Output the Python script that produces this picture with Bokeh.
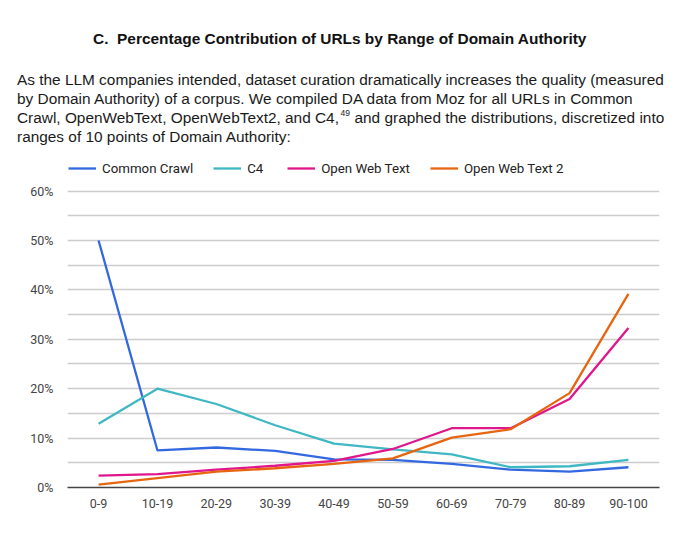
from bokeh.plotting import figure
from bokeh.models import (FactorRange, Range1d, FixedTicker, PrintfTickFormatter,
                          Legend, LegendItem, ColumnDataSource)
from bokeh.embed import file_html
from bokeh.resources import INLINE
from bokeh.core.properties import value

# ---------------- data ----------------
ranges = ["0-9", "10-19", "20-29", "30-39", "40-49", "50-59", "60-69", "70-79", "80-89", "90-100"]
common_crawl = [50.0, 7.5, 8.1, 7.4, 5.7, 5.6, 4.8, 3.6, 3.2, 4.1]
c4 = [12.9, 20.0, 16.9, 12.6, 8.9, 7.7, 6.7, 4.1, 4.3, 5.6]
open_web_text = [2.4, 2.7, 3.6, 4.4, 5.4, 7.8, 12.0, 12.0, 17.9, 32.3]
open_web_text_2 = [0.6, 1.9, 3.2, 3.9, 4.8, 5.9, 10.1, 11.8, 19.1, 39.2]
series_names = ["Common Crawl", "C4", "Open Web Text", "Open Web Text 2"]
series_colors = ["#3369e0", "#3fb8c4", "#e0168c", "#e8650f"]
y_ticks = [0, 10, 20, 30, 40, 50, 60]
y_minor = [5, 15, 25, 35, 45, 55]

title = "C.\u00a0 Percentage Contribution of URLs by Range of Domain Authority"
para = [
    "As the LLM companies intended, dataset curation dramatically increases the quality (measured",
    "by Domain Authority) of a corpus. We compiled DA data from Moz for all URLs in Common",
    "Crawl, OpenWebText, OpenWebText2, and C4,",
    "ranges of 10 points of Domain Authority:",
]
sup = "49"
para3_rest = "and graphed the distributions, discretized into"

# ---------------- header (separate root, pixel coordinates) ----------------
HW, HH = 668, 150
h = figure(width=HW, height=HH, x_range=Range1d(0, HW), y_range=Range1d(HH, 0),
           output_backend="svg", toolbar_location=None,
           x_axis_location=None, y_axis_location=None,
           min_border=0, min_border_left=0, min_border_right=0,
           min_border_top=0, min_border_bottom=0)
h.grid.visible = False
h.outline_line_color = None

font = value("Liberation Sans")
h.text(x=[339.5], y=[37.7], text=[title], text_align="center", text_baseline="alphabetic",
       text_font=font, text_font_style="bold", text_font_size="15.45px", text_color="#111111")
h.text(x=[16.5] * 4, y=[79.3, 98.3, 117.3, 136.0], text=para, text_align="left",
       text_baseline="alphabetic", text_font=font, text_font_size="15.4px", text_color="#1a1a1a")
h.text(x=[340], y=[112.7], text=[sup], text_align="left", text_baseline="alphabetic",
       text_font=font, text_font_size="8.5px", text_color="#1a1a1a")
h.text(x=[354], y=[117.3], text=[para3_rest], text_align="left", text_baseline="alphabetic",
       text_font=font, text_font_size="15.4px", text_color="#1a1a1a")

# ---------------- chart ----------------
W = 664
BL, BR, BT, BB = 67, 5, 5, 30
FH = 332
H = BT + FH + BB

p = figure(width=W, height=H,
           x_range=FactorRange(factors=ranges, range_padding=0.0056),
           y_range=Range1d(0, 67.2),
           output_backend="svg", toolbar_location=None,
           min_border_left=BL, min_border_right=BR, min_border_top=BT, min_border_bottom=BB)
p.outline_line_color = None

renderers = []
for vals, col in zip([common_crawl, c4, open_web_text, open_web_text_2], series_colors):
    src = ColumnDataSource(dict(x=ranges, y=vals))
    r = p.line("x", "y", source=src, line_color=col, line_width=2.3)
    renderers.append(r)

p.xgrid.grid_line_color = None
p.ygrid.ticker = FixedTicker(ticks=y_ticks[1:], minor_ticks=y_minor)
p.ygrid.grid_line_color = "#cccccc"
p.ygrid.grid_line_width = 1.6
p.ygrid.minor_grid_line_color = "#cccccc"
p.ygrid.minor_grid_line_width = 1.6

p.yaxis.ticker = FixedTicker(ticks=y_ticks)
p.yaxis.formatter = PrintfTickFormatter(format="%d%%")
p.yaxis.axis_line_color = None
p.yaxis.major_tick_line_color = None
p.yaxis.minor_tick_line_color = None
p.yaxis.major_label_standoff = 8
p.yaxis.major_label_text_font = "Roboto"
p.yaxis.major_label_text_font_size = "12.5px"
p.yaxis.major_label_text_color = "#444444"

p.xaxis.axis_line_color = "#444444"
p.xaxis.axis_line_width = 1.6
p.xaxis.major_tick_line_color = None
p.xaxis.minor_tick_line_color = None
p.xaxis.major_label_standoff = 5
p.xaxis.major_label_text_font = "Roboto"
p.xaxis.major_label_text_font_size = "12.5px"
p.xaxis.major_label_text_color = "#444444"

legend = Legend(items=[LegendItem(label=n, renderers=[r]) for n, r in zip(series_names, renderers)],
                orientation="horizontal", location=(1, 311),
                glyph_width=28, glyph_height=16, label_height=16, label_standoff=6, spacing=20,
                padding=0, margin=0, border_line_color=None, background_fill_alpha=0,
                label_text_font="Roboto", label_text_font_size="13.3px", label_text_color="#222222")
p.add_layout(legend)

open("out.html", "w").write(file_html([h, p], INLINE))
